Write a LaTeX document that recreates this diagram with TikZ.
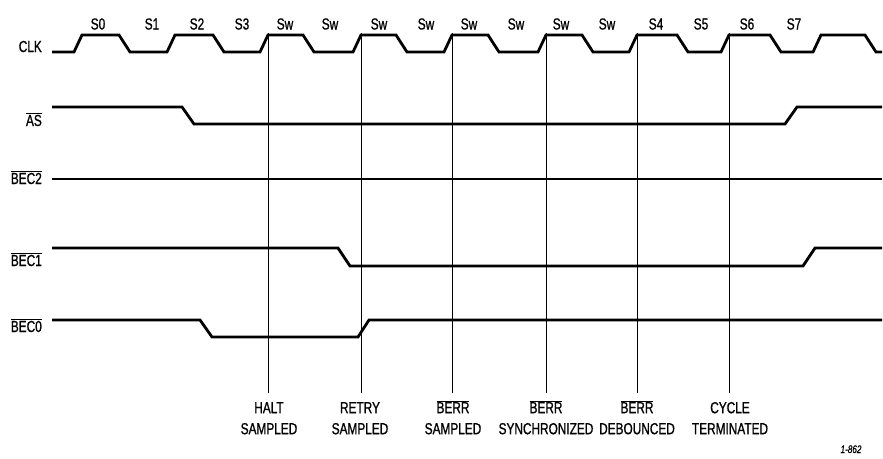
\documentclass[tikz,border=0pt]{standalone}
\usepackage{fontspec}
\setmainfont{Liberation Sans}[FakeStretch=0.74,FakeBold=0.9]
\newcommand\ovl[1]{$\overline{\mbox{#1}}$}
\newcommand\ph{\vphantom{\ovl{B}}}
\begin{document}
\begin{tikzpicture}[x=1pt,y=-1pt,
  sig/.style={line width=2.8pt,line join=miter},
  vline/.style={line width=0.9pt},
  lbl/.style={font=\fontsize{16}{21}\selectfont,inner sep=0pt},
  signame/.style={lbl,anchor=base east},
  st/.style={lbl,anchor=base},
  ev/.style={lbl,anchor=north,align=center},
  fig/.style={font=\fontsize{11}{13}\selectfont\itshape,inner sep=0pt,anchor=base}]
\useasboundingbox (0,0) rectangle (883,458);
% signal names
\node[signame] (nclk) at (42,52) {CLK};
\node[signame] (nas) at (42,126) {\ovl{AS}};
\node[signame] (nb2) at (42,184) {\ovl{BEC2}};
\node[signame] (nb1) at (42,266) {\ovl{BEC1}};
\node[signame] (nb0) at (42,332) {\ovl{BEC0}};
% state labels
\foreach \x/\t [count=\i] in {98/S0,152/S1,197/S2,242/S3,285/Sw,330/Sw,379/Sw,426/Sw,469/Sw,516/Sw,561/Sw,607/Sw,656/S4,701/S5,747/S6,794/S7}
  \node[st] (s\i) at (\x,29.5) {\t};
% clock
\draw[sig] (52,52) -- (74,52) -- (82,35) -- (119,35) -- (130,52)
  -- (167,52) -- (175,35) -- (213,35) -- (224,52)
  -- (260,52) -- (268,35) -- (303,35) -- (314,52)
  -- (353,52) -- (361,35) -- (396,35) -- (407,52)
  -- (444,52) -- (452,35) -- (488,35) -- (499,52)
  -- (538,52) -- (546,35) -- (582,35) -- (593,52)
  -- (629,52) -- (637,35) -- (677,35) -- (688,52)
  -- (721,52) -- (729,35) -- (770,35) -- (781,52)
  -- (813,52) -- (821,35) -- (865,35) -- (876,52) -- (882,52);
% AS
\draw[sig] (52,107) -- (182,107) -- (194,124) -- (785,124) -- (797,107) -- (882,107);
% BEC2
\draw[sig] (52,179) -- (882,179);
% BEC1
\draw[sig] (52,248) -- (338,248) -- (350,266) -- (803,266) -- (815,248) -- (882,248);
% BEC0
\draw[sig] (52,320) -- (200,320) -- (212,337) -- (358,337) -- (369,320) -- (882,320);
% event lines
\foreach \x [count=\i] in {268,361,452,546,637,729} {
  \coordinate (t\i) at (\x,33);
  \coordinate (b\i) at (\x,393);
  \draw[vline] (t\i) -- (b\i);
}
\node[ev] (e1) at (269,400) {\ph HALT\\SAMPLED};
\node[ev] (e2) at (360,400) {\ph RETRY\\SAMPLED};
\node[ev] (e3) at (453,400) {\ovl{BERR}\\SAMPLED};
\node[ev] (e4) at (546,400) {\ovl{BERR}\\SYNCHRONIZED};
\node[ev] (e5) at (637,400) {\ovl{BERR}\\DEBOUNCED};
\node[ev] (e6) at (730,400) {\ph CYCLE\\TERMINATED};
\node[fig] (fg) at (851,453) {1-862};
\end{tikzpicture}
\end{document}
